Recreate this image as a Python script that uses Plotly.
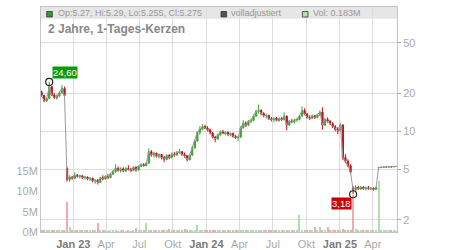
import math
import pandas as pd
import plotly.graph_objects as go

# ---------------- data (weekly candles) ----------------
week_start = "2022-10-06"
n_weeks = 140
week_dates = pd.date_range(week_start, periods=n_weeks, freq="7D")

opens = [20.5, 19.2, 17.4, 18.2, 22.5, 19.4, 18.4, 19.0, 20.2, 21.8,
         5.1, 4.15, 4.35, 4.25, 4.5, 4.4, 4.45, 4.3, 4.35, 4.2,
         4.25, 4.05, 4.1, 3.95, 4.3, 4.2, 4.4, 4.3, 4.6, 4.8,
         5.1, 4.9, 5.05, 4.85, 5.1, 5.0, 4.9, 5.2, 4.95, 5.3,
         5.45, 5.35, 5.6, 6.9, 6.5, 6.7, 6.35, 6.55, 6.2, 6.0,
         6.45, 6.2, 6.6, 6.5, 6.8, 6.9, 6.55, 6.4, 5.95, 6.5,
         7.4, 8.4, 9.8, 10.4, 10.9, 10.6, 10.3, 9.7, 9.0, 8.7,
         9.4, 9.9, 9.6, 9.8, 9.4, 9.6, 9.1, 8.9, 9.0, 10.7,
         11.6, 11.2, 12.0, 12.2, 13.2, 14.4, 14.6, 13.8, 13.3, 13.4,
         12.6, 12.4, 12.7, 12.2, 12.6, 12.4, 13.2, 11.2, 12.0, 11.9,
         12.3, 12.4, 13.2, 14.6, 13.7, 12.9, 12.7, 13.3, 12.9, 13.5,
         14.2, 11.2, 12.4, 12.0, 11.5, 10.9, 10.4, 10.1, 11.2, 6.2,
         5.8, 5.35, 3.55, 3.45, 3.6, 3.5, 3.62, 3.52, 3.58, 3.5,
         3.55, 3.48, 5.12, 5.18, 5.2, 5.22, 5.23, 5.25, 5.24, 5.27]
highs = [21.0, 19.5, 18.6, 24.6, 23.0, 20.0, 19.6, 20.8, 23.3, 22.6,
         5.2, 4.5, 4.45, 4.75, 4.6, 4.55, 4.5, 4.45, 4.4, 4.35,
         4.3, 4.2, 4.2, 4.35, 4.5, 4.5, 4.6, 4.7, 4.95, 5.5,
         5.3, 5.2, 5.2, 5.2, 5.4, 5.15, 5.3, 5.3, 5.4, 5.6,
         5.6, 5.7, 7.3, 7.1, 6.9, 6.8, 6.7, 6.6, 6.4, 6.6,
         6.6, 6.8, 6.9, 7.0, 7.3, 7.0, 6.8, 6.5, 6.6, 7.6,
         8.6, 10.0, 11.0, 11.4, 11.3, 11.0, 10.5, 9.9, 9.2, 9.6,
         10.2, 10.3, 10.0, 10.0, 9.8, 9.8, 9.4, 9.2, 11.0, 12.2,
         12.0, 12.3, 12.6, 13.6, 14.8, 16.3, 15.0, 14.2, 13.8, 13.5,
         13.0, 12.8, 13.0, 12.9, 13.0, 14.1, 13.3, 12.3, 12.5, 12.6,
         12.8, 13.5, 15.8, 15.2, 14.0, 13.4, 13.6, 13.5, 13.8, 14.6,
         15.5, 12.8, 12.9, 12.3, 11.8, 11.2, 10.8, 11.6, 11.4, 6.6,
         6.0, 5.5, 3.7, 3.75, 3.7, 3.7, 3.68, 3.65, 3.7, 3.62,
         3.6, 3.65, 5.22, 5.24, 5.25, 5.26, 5.27, 5.28, 5.28, 5.29]
lows = [18.8, 17.0, 17.1, 18.0, 19.0, 18.0, 17.8, 18.6, 19.8, 18.6,
        4.0, 4.0, 4.15, 4.2, 4.3, 4.25, 4.2, 4.15, 4.1, 4.05,
        3.95, 3.85, 3.8, 3.9, 4.1, 4.15, 4.2, 4.25, 4.5, 4.7,
        4.8, 4.7, 4.75, 4.8, 4.9, 4.75, 4.85, 4.8, 4.9, 5.2,
        5.25, 5.3, 5.6, 6.3, 6.2, 6.2, 6.1, 6.0, 5.7, 5.9,
        6.0, 6.1, 6.3, 6.4, 6.6, 6.4, 6.2, 5.8, 5.9, 6.4,
        7.3, 8.3, 9.4, 10.2, 10.4, 10.0, 9.5, 8.8, 8.2, 8.6,
        9.2, 9.5, 9.3, 9.2, 9.1, 8.9, 8.7, 8.4, 8.9, 10.5,
        10.8, 11.0, 11.6, 12.0, 13.0, 13.8, 13.4, 12.9, 12.6, 12.3,
        12.0, 11.8, 12.0, 11.9, 12.1, 12.2, 10.2, 11.0, 11.6, 11.5,
        11.9, 12.2, 13.0, 13.4, 12.6, 12.3, 12.5, 12.5, 12.7, 13.2,
        10.3, 11.0, 11.7, 11.2, 10.6, 10.0, 9.5, 10.0, 5.9, 5.6,
        5.2, 4.6, 3.18, 3.4, 3.45, 3.45, 3.45, 3.42, 3.48, 3.42,
        3.4, 3.45, 5.08, 5.15, 5.17, 5.19, 5.2, 5.22, 5.23, 5.255]
closes = [19.2, 17.4, 18.2, 22.5, 19.4, 18.4, 19.0, 20.2, 21.8, 19.2,
          4.15, 4.35, 4.25, 4.5, 4.4, 4.45, 4.3, 4.35, 4.2, 4.25,
          4.05, 4.1, 3.95, 4.3, 4.2, 4.4, 4.3, 4.6, 4.8, 5.1,
          4.9, 5.05, 4.85, 5.1, 5.0, 4.9, 5.2, 4.95, 5.3, 5.45,
          5.35, 5.6, 6.9, 6.5, 6.7, 6.35, 6.55, 6.2, 6.0, 6.45,
          6.2, 6.6, 6.5, 6.8, 6.9, 6.55, 6.4, 5.95, 6.5, 7.4,
          8.4, 9.8, 10.4, 10.9, 10.6, 10.3, 9.7, 9.0, 8.7, 9.4,
          9.9, 9.6, 9.8, 9.4, 9.6, 9.1, 8.9, 9.0, 10.7, 11.6,
          11.2, 12.0, 12.2, 13.2, 14.4, 14.6, 13.8, 13.3, 13.4, 12.6,
          12.4, 12.7, 12.2, 12.6, 12.4, 13.2, 11.2, 12.0, 11.9, 12.3,
          12.4, 13.2, 14.6, 13.7, 12.9, 12.7, 13.3, 12.9, 13.5, 14.2,
          11.2, 12.4, 12.0, 11.5, 10.9, 10.4, 10.1, 11.2, 6.2, 5.8,
          5.35, 4.75, 3.45, 3.6, 3.5, 3.62, 3.52, 3.58, 3.5, 3.55,
          3.48, 3.6, 5.18, 5.2, 5.22, 5.23, 5.25, 5.24, 5.27, 5.275]
volumes_m = [0.3, 0.25, 0.3, 0.5, 0.3, 0.25, 0.3, 0.25, 0.35, 0.4,
             7.4, 1.3, 0.5, 0.4, 0.35, 0.3, 0.3, 0.25, 0.3, 0.3,
             0.25, 0.3, 2.2, 0.3, 0.25, 0.3, 0.2, 0.25, 0.3, 0.25,
             0.2, 0.25, 0.3, 0.2, 0.25, 0.2, 0.25, 1.0, 0.3, 0.25,
             0.3, 2.2, 0.5, 0.3, 0.25, 0.3, 0.25, 0.3, 0.25, 0.3,
             0.7, 0.3, 0.25, 0.3, 0.35, 0.3, 0.8, 0.3, 0.35, 0.4,
             0.5, 1.7, 0.4, 0.3, 0.35, 0.3, 0.4, 0.3, 0.35, 0.3,
             0.3, 0.25, 0.3, 0.35, 0.3, 0.25, 0.3, 0.4, 0.5, 0.35,
             0.3, 0.3, 0.25, 0.3, 0.4, 0.5, 0.3, 0.3, 0.25, 0.3,
             0.3, 0.25, 0.3, 0.3, 0.35, 0.4, 0.5, 0.3, 0.35, 0.3,
             0.4, 4.3, 0.4, 0.3, 0.35, 0.3, 0.5, 1.3, 0.5, 1.3,
             0.6, 0.4, 1.2, 0.4, 0.5, 0.4, 0.5, 0.6, 0.7, 0.5,
             0.4, 0.4, 9.0, 0.8, 0.4, 0.35, 0.3, 0.4, 0.3, 0.35,
             0.6, 0.4, 12.5, 0.5, 0.35, 0.3, 0.3, 0.25, 0.3, 0.183]

x_tick_dates = ["2023-01-01", "2023-04-01", "2023-07-01", "2023-10-01",
                "2024-01-01", "2024-04-01", "2024-07-01", "2024-10-01",
                "2025-01-01", "2025-04-01"]
x_tick_labels = ["Jan 23", "Apr", "Jul", "Okt", "Jan 24", "Apr", "Jul", "Okt", "Jan 25", "Apr"]
price_ticks = [2, 5, 10, 20, 50]
vol_ticks = [0, 5, 10, 15]
vol_tick_labels = ["0M", "5M", "10M", "15M"]

title_text = "2 Jahre, 1-Tages-Kerzen"
last_info = "Op:5.27, Hi:5.29, Lo:5.255, Cl:5.275"
adj_text = "volladjustiert"
vol_info = "Vol: 0.183M"

# ---------------- styling ----------------
UP = "#3ea334"
DOWN = "#c0141a"
VOL_UP = "#addfa8"
VOL_DOWN = "#f3a9ad"
GRID = "#dddddd"
AXLINE = "#c4c4c4"
FONT = "Liberation Sans, Arial, sans-serif"

L, R, T, B = 41, 53, 7, 18
W, H = 450, 250
PW, PH = W - L - R, H - T - B


def px_x(p):
    return (p - L) / PW


def px_y(p):
    return (H - B - p) / PH


vol_colors = [VOL_UP if c >= o else VOL_DOWN for o, c in zip(opens, closes)]

fig = go.Figure()

fig.add_trace(go.Bar(
    x=week_dates, y=volumes_m, yaxis="y", marker_color=vol_colors,
    marker_line_width=0, width=3 * 86400000, hoverinfo="skip", showlegend=False))

fig.add_trace(go.Scatter(
    x=week_dates, y=closes, yaxis="y2", mode="lines",
    line=dict(color="#9a9a9a", width=1), hoverinfo="skip", showlegend=False))

fig.add_trace(go.Candlestick(
    x=week_dates, open=opens, high=highs, low=lows, close=closes, yaxis="y2",
    increasing=dict(line=dict(color=UP, width=1), fillcolor=UP),
    decreasing=dict(line=dict(color=DOWN, width=1), fillcolor=DOWN),
    whiskerwidth=0, showlegend=False))

i_max = max(range(n_weeks), key=lambda i: highs[i])
i_min = min(range(n_weeks), key=lambda i: lows[i])
fig.add_trace(go.Scatter(
    x=[week_dates[i_max], week_dates[i_min]], y=[highs[i_max], lows[i_min]],
    yaxis="y2", mode="markers",
    marker=dict(symbol="circle-open", size=7, color="#222222", line=dict(width=1.2)),
    hoverinfo="skip", showlegend=False))

annotations = [
    dict(x=week_dates[i_max], y=math.log10(highs[i_max]), xref="x", yref="y2",
         text=f"{highs[i_max]:.2f}".replace(".", ","), showarrow=False,
         xanchor="left", yanchor="bottom", xshift=3, yshift=3,
         bgcolor="#0c990c", borderpad=0,
         font=dict(family=FONT, size=9.5, color="white")),
    dict(x=week_dates[i_min], y=math.log10(lows[i_min]), xref="x", yref="y2",
         text=f"{lows[i_min]:.2f}".replace(".", ","), showarrow=False,
         xanchor="right", yanchor="top", xshift=-1, yshift=-3,
         bgcolor="#cc0000", borderpad=0,
         font=dict(family=FONT, size=9.5, color="white")),
    dict(x=px_x(46), y=px_y(29.5), xref="paper", yref="paper", text=f"<b>{title_text}</b>",
         showarrow=False, xanchor="left", yanchor="middle",
         font=dict(family=FONT, size=12, color="#888888")),
    dict(x=px_x(56), y=px_y(13), xref="paper", yref="paper", text=last_info,
         showarrow=False, xanchor="left", yanchor="middle",
         font=dict(family=FONT, size=9, color="#999999")),
    dict(x=px_x(229), y=px_y(13), xref="paper", yref="paper", text=adj_text,
         showarrow=False, xanchor="left", yanchor="middle",
         font=dict(family=FONT, size=9, color="#999999")),
    dict(x=px_x(311), y=px_y(13), xref="paper", yref="paper", text=vol_info,
         showarrow=False, xanchor="left", yanchor="middle",
         font=dict(family=FONT, size=9, color="#999999")),
]

shapes = [
    dict(type="rect", xref="paper", yref="paper", x0=0, x1=1, y0=px_y(18.7), y1=1,
         fillcolor="#e6e6e6", line_width=0, layer="below"),
    dict(type="rect", xref="paper", yref="paper", x0=px_x(46.7), x1=px_x(52.3),
         y0=px_y(17.0), y1=px_y(11.5), fillcolor="#2e9e2e", line=dict(color="#333", width=0.8)),
    dict(type="rect", xref="paper", yref="paper", x0=px_x(221), x1=px_x(226.6),
         y0=px_y(17.0), y1=px_y(11.5), fillcolor="#555555", line=dict(color="#333", width=0.8)),
    dict(type="rect", xref="paper", yref="paper", x0=px_x(302.4), x1=px_x(308),
         y0=px_y(17.0), y1=px_y(11.5), fillcolor="#b4e2b0", line=dict(color="#333", width=0.8)),
]

ticktext = []
for lab in x_tick_labels:
    if lab.startswith("Jan"):
        ticktext.append(f"<b><span style='color:#7a7a7a'>{lab}</span></b>")
    else:
        ticktext.append(lab)

fig.update_layout(
    template="none",
    width=W, height=H, autosize=False,
    margin=dict(l=L, r=R, t=T, b=B, pad=0),
    paper_bgcolor="white", plot_bgcolor="white",
    font=dict(family=FONT, size=11, color="#aaaaaa"),
    showlegend=False, bargap=0,
    xaxis=dict(type="date", range=["2022-10-04 12:00", "2025-06-06 08:00"],
               tickvals=x_tick_dates, ticktext=ticktext, ticks="",
               automargin=False, ticklabelstandoff=2,
               showgrid=True, gridcolor=GRID, gridwidth=1,
               showline=True, linecolor=AXLINE, linewidth=1, mirror=True,
               rangeslider=dict(visible=False), zeroline=False,
               tickfont=dict(family=FONT, size=11, color="#aaaaaa")),
    yaxis=dict(range=[0, 55.3], tickvals=vol_ticks, ticktext=vol_tick_labels,
               side="left", showgrid=False, zeroline=False, ticks="",
               automargin=False,
               showline=True, linecolor=AXLINE, linewidth=1,
               tickfont=dict(family=FONT, size=11, color="#aaaaaa")),
    yaxis2=dict(type="log", range=[math.log10(1.60), math.log10(96.2)],
                tickvals=price_ticks, ticktext=[str(v) for v in price_ticks],
                overlaying="y", side="right", showgrid=True, gridcolor=GRID,
                automargin=False,
                showline=True, linecolor=AXLINE, linewidth=1,
                ticks="outside", ticklen=3, tickcolor="#aaaaaa", zeroline=False,
                tickfont=dict(family=FONT, size=11, color="#aaaaaa")),
    annotations=annotations, shapes=shapes,
)

fig.write_html("out.html")
